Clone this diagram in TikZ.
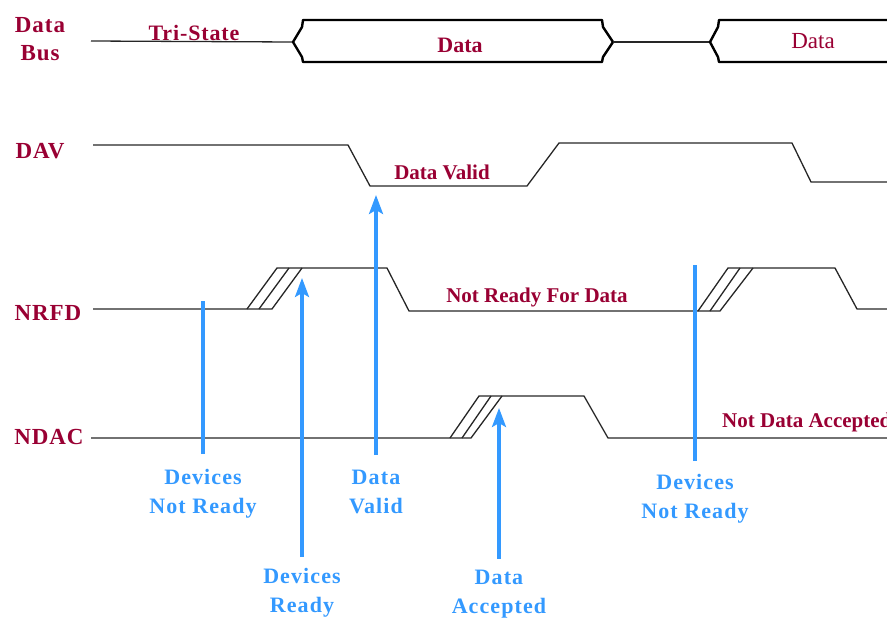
\documentclass[tikz,border=0pt]{standalone}
\usepackage{fontspec}
\setmainfont{Liberation Serif}
\usetikzlibrary{arrows.meta}
\definecolor{sigred}{RGB}{153,0,51}
\definecolor{markblue}{RGB}{51,153,255}
\tikzset{
  sig/.style={line width=1.3pt, black!85, line join=miter},
  bus/.style={line width=2.4pt, black, line join=round},
  siglabel/.style={text=sigred, font=\bfseries\fontsize{23}{28}\selectfont\addfontfeature{LetterSpace=4}, inner sep=0pt, align=center, anchor=base},
  inlabel/.style={text=sigred, font=\bfseries\fontsize{21}{24}\selectfont, inner sep=0pt, anchor=base},
  marklabel/.style={text=markblue, font=\bfseries\fontsize{22}{28.5}\selectfont\addfontfeature{LetterSpace=5}, inner sep=0pt, align=center, anchor=base},
  markline/.style={line width=3.2pt, markblue, shorten <=15pt},
  markarrow/.style={markline, -{Stealth[length=19pt,width=14pt,inset=4pt]}},
}
\begin{document}
\begin{tikzpicture}[x=1pt,y=-1pt]
\useasboundingbox (0,0) rectangle (887,619);

% signal names (multi-line nodes sit on the baseline of their last line)
\node[siglabel] (nbus)  at (40,60)  {Data\\Bus};
\node[siglabel] (ndav)  at (40,158) {DAV};
\node[siglabel] (nnrfd) at (48,320) {NRFD};
\node[siglabel] (nndac) at (49,444) {NDAC};

% data bus
\draw[sig] (91,41) -- (293,42);
\draw[bus] (293,42) -- (302,27) -- (303,20) -- (602,20) -- (603,27) -- (613,42)
           -- (603,57) -- (602,62) -- (303,62) -- (302,57) -- cycle;
\draw[sig] (613,42) -- (710,42);
\draw[bus] (892,20) -- (719,20) -- (718,27) -- (710,42) -- (718,57) -- (719,62) -- (892,62);
\node[inlabel, font=\bfseries\fontsize{22}{26}\selectfont\addfontfeature{LetterSpace=4}] (ltri) at (194,40) {Tri-State};
\node[inlabel, font=\bfseries\fontsize{22}{26}\selectfont] (ldata1) at (460,52) {Data};
\node[inlabel, font=\fontsize{23}{26}\selectfont] (ldata2) at (813,48) {Data};

% DAV
\draw[sig] (93,145) -- (348,145) -- (370,186) -- (527,186) -- (559,143)
           -- (792,143) -- (811,182) -- (890,182);
\node[inlabel] (ldv) at (442,179) {Data Valid};

% NRFD
\draw[sig] (93,309) -- (272,309) -- (302,268);
\draw[sig] (247,309) -- (277,268) -- (387,268) -- (409,311) -- (720,311) -- (753,268);
\draw[sig] (259,309) -- (289,268);
\draw[sig] (698,311) -- (728,268) -- (835,268) -- (857,309) -- (890,309);
\draw[sig] (710,311) -- (740,268);
\node[inlabel] (lnrfd) at (537,302) {Not Ready For Data};

% NDAC
\draw[sig] (91,438) -- (471,438) -- (502,396);
\draw[sig] (450,438) -- (479,396) -- (584,396) -- (608,438) -- (890,438);
\draw[sig] (462,438) -- (491,396);
\node[inlabel, anchor=base west] (lndac) at (722,427) {Not Data Accepted};

% event markers
\coordinate (tnr1) at (203,301);
\coordinate (tdr)  at (302,278);
\coordinate (tdv)  at (376,195);
\coordinate (tda)  at (499,408);
\coordinate (tnr2) at (695,265);
\node[marklabel] (mnr1) at (203,513) {Devices\\Not Ready};
\node[marklabel] (mdr)  at (302,612) {Devices\\Ready};
\node[marklabel] (mdv)  at (376,513) {Data\\Valid};
\node[marklabel] (mda)  at (499,613) {Data\\Accepted};
\node[marklabel] (mnr2) at (695,518) {Devices\\Not Ready};
\draw[markline] (mnr1) -- (tnr1);
\draw[markarrow, shorten <=11pt] (mdr) -- (tdr);
\draw[markarrow] (mdv) -- (tdv);
\draw[markarrow, shorten <=11pt] (mda) -- (tda);
\draw[markline, shorten <=13pt] (mnr2) -- (tnr2);
\end{tikzpicture}
\end{document}
